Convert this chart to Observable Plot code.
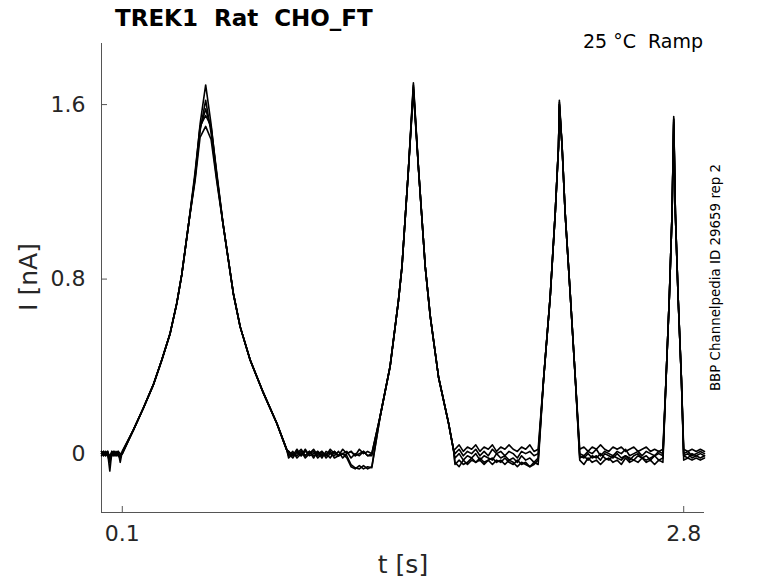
<!DOCTYPE html>
<html>
<head>
<meta charset="utf-8">
<script src="https://cdn.jsdelivr.net/npm/d3@7"></script>
<script src="https://cdn.jsdelivr.net/npm/@observablehq/plot@0.6"></script>
<style>
  body { margin: 0; background: #fff; }
  #wrap { position: relative; width: 778px; height: 583px; font-family: "DejaVu Sans"; }
  #wrap > svg { position: absolute; left: 0; top: 0; }
  .pre { white-space: pre; }
</style>
</head>
<body>
<div id="wrap"></div>
<script>
// ---------- texts ----------
const titleText = "TREK1  Rat  CHO_FT";
const condText = "25 \u00B0C  Ramp";
const sideText = "BBP Channelpedia ID 29659 rep 2";
const xLabelText = "t [s]";
const yLabelText = "I [nA]";

// ---------- axes ----------
const xDomain = [0, 2.9];
const yDomain = [-0.27, 1.88];
const xTicks = [0.1, 2.8];
const xTickLabels = ["0.1", "2.8"];
const yTicks = [0, 0.8, 1.6];
const yTickLabels = ["0", "0.8", "1.6"];

// ---------- sweeps ----------
const traces = ["sweep 1", "sweep 2", "sweep 3", "sweep 4", "sweep 5"];

// baseline segment sample times (s)
const tA = [0, 0.01, 0.02, 0.03, 0.04, 0.05, 0.06, 0.07, 0.08, 0.09, 0.1];
const tB = [0.9, 0.92, 0.94, 0.96, 0.98, 1.0, 1.02, 1.04, 1.06, 1.08, 1.1, 1.12, 1.14, 1.16, 1.18, 1.2, 1.22, 1.24, 1.26, 1.28, 1.3];
const tC = [1.7, 1.72, 1.74, 1.76, 1.78, 1.8, 1.82, 1.84, 1.86, 1.88, 1.9, 1.92, 1.94, 1.96, 1.98, 2.0, 2.02, 2.04, 2.06, 2.08, 2.1];
const tD = [2.3, 2.32, 2.34, 2.36, 2.38, 2.4, 2.42, 2.44, 2.46, 2.48, 2.5, 2.52, 2.54, 2.56, 2.58, 2.6, 2.62, 2.64, 2.66, 2.68, 2.7];
const tE = [2.8, 2.82, 2.84, 2.86, 2.88, 2.9];

// baseline currents (nA), one row per sweep
const bA = [
  [0.00, 0.01, -0.01, 0.00, -0.08, 0.01, -0.01, 0.00, 0.01, -0.04, 0.01],
  [0.01, -0.01, 0.00, 0.01, -0.02, 0.00, 0.01, -0.01, 0.00, -0.01, 0.00],
  [-0.01, 0.00, 0.01, -0.01, -0.04, 0.00, -0.01, 0.01, -0.01, -0.02, 0.01],
  [0.00, 0.01, -0.01, 0.00, -0.01, 0.01, 0.00, -0.01, 0.01, 0.00, 0.00],
  [0.01, -0.01, 0.00, 0.01, -0.03, -0.01, 0.01, 0.00, -0.01, -0.01, 0.00]
];
const bB = [
  [0.01, -0.01, 0.02, -0.01, 0.01, 0.00, 0.02, -0.01, 0.01, -0.01, 0.02, 0.00, -0.01, 0.02, 0.00, 0.01, -0.01, 0.02, 0.00, 0.01, 0.00],
  [-0.01, 0.01, -0.02, 0.00, -0.01, 0.01, -0.02, 0.01, -0.01, 0.00, -0.02, 0.01, -0.01, 0.00, 0.01, -0.02, 0.00, -0.01, 0.01, -0.01, -0.01],
  [0.00, -0.02, 0.01, -0.01, 0.02, -0.01, 0.00, 0.01, -0.02, 0.01, 0.00, -0.01, 0.01, -0.02, 0.00, 0.01, -0.01, 0.00, 0.01, -0.01, 0.00],
  [-0.02, 0.00, -0.01, 0.01, -0.02, 0.00, 0.01, -0.02, 0.00, -0.01, 0.01, -0.02, -0.01, 0.00, -0.02, -0.06, -0.07, -0.055, -0.07, -0.06, -0.065],
  [0.01, -0.01, 0.00, 0.02, -0.01, 0.01, -0.01, 0.00, 0.01, -0.02, 0.00, 0.01, -0.01, 0.00, -0.01, -0.05, -0.065, -0.07, -0.055, -0.07, -0.06]
];
const bC = [
  [0.02, 0.04, 0.01, 0.03, 0.02, 0.04, 0.01, 0.03, 0.02, 0.04, 0.01, 0.03, 0.02, 0.04, 0.02, 0.01, 0.03, 0.02, 0.04, 0.01, 0.02],
  [0.00, 0.02, -0.01, 0.01, 0.00, 0.02, -0.01, 0.01, -0.01, 0.02, 0.00, 0.01, -0.01, 0.01, 0.00, -0.02, 0.01, 0.00, 0.01, -0.01, 0.00],
  [-0.02, 0.00, -0.03, -0.01, -0.02, 0.00, -0.03, -0.01, -0.02, -0.03, 0.00, -0.02, -0.01, -0.03, -0.02, -0.04, -0.01, -0.03, -0.02, -0.04, -0.02],
  [-0.05, -0.03, -0.05, -0.04, -0.02, -0.04, -0.03, -0.05, -0.03, -0.02, -0.04, -0.03, -0.05, -0.03, -0.04, -0.06, -0.04, -0.05, -0.06, -0.04, -0.05],
  [-0.04, -0.06, -0.03, -0.05, -0.03, -0.04, -0.02, -0.04, -0.03, -0.05, -0.03, -0.04, -0.02, -0.04, -0.05, -0.03, -0.05, -0.04, -0.06, -0.05, -0.03]
];
const bD = [
  [0.02, 0.03, 0.01, 0.03, 0.02, 0.04, 0.02, 0.01, 0.03, 0.02, 0.03, 0.01, 0.02, 0.03, 0.01, 0.02, 0.03, 0.01, 0.02, 0.01, 0.02],
  [0.00, -0.01, 0.01, 0.00, 0.02, -0.01, 0.01, 0.00, -0.01, 0.01, 0.00, 0.02, -0.01, 0.00, 0.01, -0.01, 0.01, 0.00, -0.01, 0.01, 0.00],
  [-0.02, -0.01, -0.03, -0.01, -0.02, 0.00, -0.02, -0.03, -0.01, -0.02, -0.03, -0.01, -0.02, -0.03, -0.01, -0.02, -0.03, -0.02, -0.01, -0.03, -0.02],
  [-0.03, -0.05, -0.02, -0.04, -0.03, -0.05, -0.03, -0.02, -0.04, -0.03, -0.05, -0.02, -0.04, -0.03, -0.04, -0.02, -0.04, -0.03, -0.05, -0.03, -0.04],
  [-0.01, -0.02, 0.00, -0.02, -0.01, -0.03, 0.00, -0.01, -0.02, 0.00, -0.02, -0.01, -0.03, -0.01, 0.00, -0.02, -0.01, -0.03, -0.01, 0.00, -0.01]
];
const bE = [
  [0.02, 0.01, 0.02, 0.01, 0.02, 0.01],
  [0.00, 0.01, -0.01, 0.00, 0.01, 0.00],
  [-0.01, -0.02, 0.00, -0.01, -0.02, -0.01],
  [-0.03, -0.02, -0.03, -0.02, -0.03, -0.02],
  [-0.01, 0.00, -0.02, -0.01, 0.00, -0.01]
];

// ramp 1 (0.1 - 0.9 s)
const p1RiseT = [0.153, 0.201, 0.249, 0.290, 0.330, 0.362, 0.386, 0.420];
const p1RiseI = [0.108, 0.208, 0.315, 0.429, 0.551, 0.689, 0.82, 1.06];
const p1TopT = [0.45, 0.474, 0.501, 0.527, 0.554];
const p1TopI = [
  [1.275, 1.51, 1.69, 1.51, 1.275],
  [1.26, 1.48, 1.62, 1.47, 1.26],
  [1.29, 1.50, 1.55, 1.50, 1.29],
  [1.25, 1.45, 1.50, 1.44, 1.25],
  [1.27, 1.49, 1.58, 1.49, 1.28]
];
const p1FallT = [0.585, 0.634, 0.667, 0.715, 0.779, 0.843, 0.891];
const p1FallI = [1.05, 0.734, 0.581, 0.429, 0.277, 0.139, 0.017];

// ramp 2 (1.3 - 1.7 s)
const p2RiseT = [1.340, 1.388, 1.428, 1.445, 1.476];
const p2RiseI = [0.17, 0.40, 0.70, 0.856, 1.30];
const p2PeakT = 1.500;
const p2Top = [1.70, 1.68, 1.66, 1.69, 1.67];
const p2FallT = [1.525, 1.557, 1.581, 1.621, 1.669, 1.693];
const p2FallI = [1.30, 0.856, 0.63, 0.35, 0.14, 0.017];

// ramp 3 (2.1 - 2.3 s)
const p3RiseT = [2.126, 2.158, 2.182, 2.198];
const p3RiseI = [0.34, 0.72, 1.10, 1.41];
const p3PeakT = 2.202;
const p3Top = [1.62, 1.60, 1.61, 1.59, 1.60];
const p3FallT = [2.215, 2.230, 2.255, 2.279];
const p3FallI = [1.41, 1.10, 0.72, 0.34];

// ramp 4 (2.7 - 2.8 s)
const p4RiseT = [2.715, 2.731, 2.744];
const p4RiseI = [0.34, 0.72, 1.10];
const p4PeakT = 2.752;
const p4Top = [1.545, 1.52, 1.53, 1.51, 1.535];
const p4FallT = [2.760, 2.773, 2.789];
const p4FallI = [1.10, 0.72, 0.34];

// ---------- build table ----------
const rows = [];
traces.forEach((name, k) => {
  const add = (ts, vs) => ts.forEach((t, i) => rows.push({trace: name, t, I: vs[i]}));
  add(tA, bA[k]);
  add(p1RiseT, p1RiseI); add(p1TopT, p1TopI[k]); add(p1FallT, p1FallI);
  add(tB, bB[k]);
  add(p2RiseT, p2RiseI); add([p2PeakT], [p2Top[k]]); add(p2FallT, p2FallI);
  add(tC, bC[k]);
  add(p3RiseT, p3RiseI); add([p3PeakT], [p3Top[k]]); add(p3FallT, p3FallI);
  add(tD, bD[k]);
  add(p4RiseT, p4RiseI); add([p4PeakT], [p4Top[k]]); add(p4FallT, p4FallI);
  add(tE, bE[k]);
});

const axisColor = "#555";
const textColor = "#262626";

const chart = Plot.plot({
  width: 778,
  height: 583,
  marginLeft: 101,
  marginRight: 74,
  marginTop: 43,
  marginBottom: 71,
  style: {fontFamily: "DejaVu Sans", fontSize: "22px", color: textColor, background: "white"},
  x: {domain: xDomain, label: null},
  y: {domain: yDomain, label: null},
  marks: [
    Plot.ruleX([xDomain[0]], {stroke: axisColor, strokeWidth: 1}),
    Plot.ruleY([yDomain[0]], {stroke: axisColor, strokeWidth: 1}),
    Plot.axisY({ticks: yTicks, tickSize: 0, tickPadding: 16, label: null,
      tickFormat: d => yTickLabels[yTicks.indexOf(d)], fill: textColor}),
    Plot.axisY({ticks: yTicks, tickSize: -6, label: null, tickFormat: () => "", stroke: axisColor}),
    Plot.axisX({ticks: xTicks, tickSize: 0, tickPadding: 13, label: null,
      tickFormat: d => xTickLabels[xTicks.indexOf(d)], fill: textColor}),
    Plot.axisX({ticks: xTicks, tickSize: -6, label: null, tickFormat: () => "", stroke: axisColor}),
    Plot.line(rows, {x: "t", y: "I", z: "trace", stroke: "black", strokeWidth: 1.6, strokeLinejoin: "round"})
  ]
});

const wrap = document.getElementById("wrap");
wrap.appendChild(chart);

// ---------- overlay texts ----------
const ov = d3.create("svg").attr("width", 778).attr("height", 583)
  .style("pointer-events", "none").style("font-family", "DejaVu Sans");
ov.append("text").attr("class", "pre").attr("x", 115).attr("y", 26)
  .attr("font-size", 23).attr("font-weight", "bold").attr("fill", "#000").text(titleText);
ov.append("text").attr("class", "pre").attr("x", 703).attr("y", 47.5)
  .attr("text-anchor", "end").attr("font-size", 19).attr("fill", "#000").text(condText);
ov.append("text").attr("transform", "translate(37,277) rotate(-90)")
  .attr("text-anchor", "middle").attr("font-size", 25).attr("fill", textColor).text(yLabelText);
ov.append("text").attr("x", 403).attr("y", 573)
  .attr("text-anchor", "middle").attr("font-size", 25).attr("fill", textColor).text(xLabelText);
ov.append("text").attr("transform", "translate(720,277.5) rotate(-90)")
  .attr("text-anchor", "middle").attr("font-size", 13.4).attr("fill", "#000").text(sideText);
wrap.appendChild(ov.node());
</script>
</body>
</html>
